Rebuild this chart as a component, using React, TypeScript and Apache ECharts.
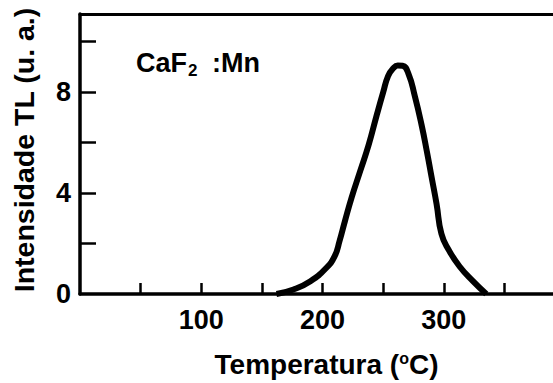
import React, { useEffect, useRef } from "react";
import * as echarts from "echarts";

const temperature = [162, 176, 190, 203, 210, 214, 218.5, 224, 231, 238, 244.6, 250, 254, 258.3, 262, 266, 270.7, 276, 281.7, 286, 290, 294, 298, 304, 313, 324, 335];
const intensity = [0, 0.18, 0.51, 1.03, 1.5, 2.1, 2.9, 3.83, 4.87, 5.91, 7.08, 8.0, 8.64, 8.95, 9.06, 9.05, 8.75, 7.86, 6.69, 5.65, 4.61, 3.57, 2.39, 1.75, 1.09, 0.51, 0];
const xTicks = [50, 100, 150, 200, 250, 300, 350];
const xLabels = [100, 200, 300];
const yTicks = [2, 4, 6, 8, 10];
const yLabels = [0, 4, 8];

const FONT = "'Liberation Sans', Arial, sans-serif";

export default function App() {
  const ref = useRef<HTMLDivElement>(null);
  useEffect(() => {
    if (!ref.current) return;
    const chart = echarts.init(ref.current, undefined, { renderer: "svg" });
    const data = temperature.map((t, i) => [t, intensity[i]]);
    chart.setOption({
      animation: false,
      backgroundColor: "#fff",
      grid: { left: 80, right: 0, top: 14, bottom: 85 },
      xAxis: [
        {
          type: "value",
          min: 0,
          max: 390,
          interval: 50,
          position: "bottom",
          name: "Temperatura ({sup|o}C)",
          nameLocation: "middle",
          nameGap: 56,
          nameTextStyle: {
            fontFamily: FONT,
            fontSize: 28,
            fontWeight: "bold",
            color: "#000",
            padding: [0, 0, 0, 20],
            rich: {
              sup: { fontFamily: FONT, fontSize: 16, fontWeight: "bold", color: "#000", verticalAlign: "top", lineHeight: 28 },
            },
          },
          axisLine: { lineStyle: { color: "#000", width: 3.5 } },
          axisTick: { inside: true, length: 11, customValues: xTicks, lineStyle: { color: "#000", width: 2.5 } },
          axisLabel: { customValues: xLabels, fontFamily: FONT, fontSize: 27, fontWeight: "bold", color: "#000", margin: 12 },
          splitLine: { show: false },
        },
        {
          type: "value",
          min: 0,
          max: 390,
          position: "top",
          axisLine: { show: true, lineStyle: { color: "#000", width: 3 } },
          axisTick: { show: false },
          axisLabel: { show: false },
          splitLine: { show: false },
        },
      ],
      yAxis: {
        type: "value",
        min: 0,
        max: 11.1,
        name: "Intensidade TL (u. a.)",
        nameLocation: "middle",
        nameGap: 42,
        nameTextStyle: { fontFamily: FONT, fontSize: 28.5, fontWeight: "bold", color: "#000", padding: [0, 0, 0, 8] },
        axisLine: { show: true, lineStyle: { color: "#000", width: 3.5 } },
        axisTick: { show: true, inside: true, length: 16, customValues: yTicks, lineStyle: { color: "#000", width: 2.5 } },
        axisLabel: { customValues: yLabels, fontFamily: FONT, fontSize: 27, fontWeight: "bold", color: "#000", margin: 9 },
        splitLine: { show: false },
      },
      graphic: [
        {
          type: "text",
          x: 136,
          y: 49,
          style: { text: "CaF", fontFamily: FONT, fontSize: 27, fontWeight: "bold", fill: "#000", verticalAlign: "top" },
        },
        {
          type: "text",
          x: 188,
          y: 62,
          style: { text: "2", fontFamily: FONT, fontSize: 17, fontWeight: "bold", fill: "#000", verticalAlign: "top" },
        },
        {
          type: "text",
          x: 212,
          y: 49,
          style: { text: ":Mn", fontFamily: FONT, fontSize: 27, fontWeight: "bold", fill: "#000", verticalAlign: "top" },
        },
      ],
      series: [
        {
          type: "line",
          data,
          smooth: 0.5,
          showSymbol: false,
          lineStyle: { color: "#000", width: 6 },
        },
      ],
    });
    return () => chart.dispose();
  }, []);
  return <div ref={ref} style={{ position: "fixed", left: 0, top: 0, width: 553, height: 383 }} />;
}
